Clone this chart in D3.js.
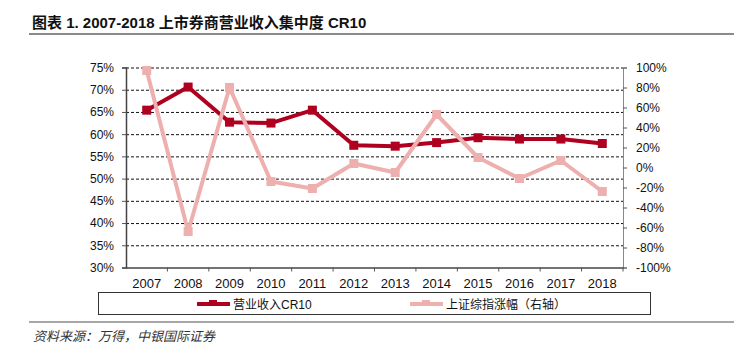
<!DOCTYPE html>
<html>
<head>
<meta charset="utf-8">
<script src="https://cdn.jsdelivr.net/npm/d3@7"></script>
<style>
  body { margin: 0; background: #fff; }
  svg { display: block; font-family: "Liberation Sans", Arial, "Noto Sans CJK SC", sans-serif; }
</style>
</head>
<body>
<svg id="chart" width="734" height="347"></svg>
<script>
// data
var years = ['2007','2008','2009','2010','2011','2012','2013','2014','2015','2016','2017','2018'];
var cr10 = [65.4, 70.6, 62.7, 62.5, 65.4, 57.5, 57.3, 58.1, 59.2, 58.9, 58.9, 57.9];   // 营业收入CR10, left axis %
var szzs = [97, -64, 80, -14, -21, 4, -5, 53, 10, -11, 7, -24];                         // 上证综指涨幅, right axis %
var leftTicks = [30, 35, 40, 45, 50, 55, 60, 65, 70, 75];
var rightTicks = [-100, -80, -60, -40, -20, 0, 20, 40, 60, 80, 100];

var red = '#B00020', pink = '#EDB0AE';
var svg = d3.select('#chart');

var x = d3.scaleBand().domain(years).range([126, 623]);
var yL = d3.scaleLinear().domain([30, 75]).range([267.5, 67.5]);
var yR = d3.scaleLinear().domain([-100, 100]).range([267.5, 67.5]);

// title + rules
svg.append('text').attr('x', 32).attr('y', 28)
  .style('font-size', '15px').style('font-weight', 'bold').attr('fill', '#111')
  .text('图表 1. 2007-2018 上市券商营业收入集中度 CR10');
svg.append('line').attr('x1', 29).attr('x2', 734).attr('y1', 34).attr('y2', 34)
  .attr('stroke', '#8a8a8a').attr('stroke-width', 2);
svg.append('line').attr('x1', 29).attr('x2', 734).attr('y1', 322).attr('y2', 322)
  .attr('stroke', '#8a8a8a').attr('stroke-width', 1.5);
svg.append('text').attr('x', 33).attr('y', 341)
  .style('font-size', '13px').style('font-style', 'italic').attr('fill', '#333')
  .text('资料来源：万得，中银国际证券');

// gridlines
svg.append('g').selectAll('line').data(leftTicks.slice(1)).join('line')
  .attr('x1', 126).attr('x2', 623)
  .attr('y1', d => yL(d) + 0.5).attr('y2', d => yL(d) + 0.5)
  .attr('stroke', '#111').attr('stroke-width', 1).attr('stroke-dasharray', '3,2');

// axes
var gl = svg.append('g').attr('transform', 'translate(126,0)')
  .call(d3.axisLeft(yL).tickValues(leftTicks).tickFormat(d => d + '%').tickSize(4).tickPadding(8));
var gr = svg.append('g').attr('transform', 'translate(623,0)')
  .call(d3.axisRight(yR).tickValues(rightTicks).tickFormat(d => d + '%').tickSize(4).tickPadding(9));
var gb = svg.append('g').attr('transform', 'translate(0,267.5)')
  .call(d3.axisBottom(x).tickSize(0).tickPadding(11));
[gl, gr, gb].forEach(function(g) {
  g.selectAll('text').style('font-size', '12px').attr('fill', '#111')
    .style('font-family', '"Liberation Sans", Arial, sans-serif');
  g.selectAll('line').attr('stroke', '#555');
});
gb.selectAll('text').style('font-size', '13px');
gl.select('.domain').attr('stroke', '#444').attr('stroke-width', 1.5);
gr.select('.domain').attr('stroke', '#888');
gb.select('.domain').attr('stroke', '#444').attr('stroke-width', 1.5);
// category boundary ticks
gb.selectAll('.bt').data(years.slice(1).concat(['end'])).join('line').attr('class', 'bt')
  .attr('x1', (d, i) => x(years[0]) + x.step() * (i + 1)).attr('x2', (d, i) => x(years[0]) + x.step() * (i + 1))
  .attr('y1', 0).attr('y2', 4).attr('stroke', '#555');

// series
function drawSeries(vals, scale, color) {
  var line = d3.line().x((d, i) => x(years[i]) + x.bandwidth() / 2).y(d => scale(d));
  svg.append('path').datum(vals).attr('d', line)
    .attr('fill', 'none').attr('stroke', color).attr('stroke-width', 4).attr('stroke-linejoin', 'round');
  svg.append('g').selectAll('rect').data(vals).join('rect')
    .attr('x', (d, i) => x(years[i]) + x.bandwidth() / 2 - 4.5)
    .attr('y', d => scale(d) - 4.5)
    .attr('width', 9).attr('height', 9).attr('fill', color);
}
drawSeries(cr10, yL, red);
drawSeries(szzs, yR, pink);

// legend
svg.append('rect').attr('x', 98.5).attr('y', 292.5).attr('width', 552).attr('height', 22)
  .attr('fill', 'none').attr('stroke', '#333').attr('stroke-width', 1);
var legend = [
  {name: '营业收入CR10', color: red, x: 197},
  {name: '上证综指涨幅（右轴）', color: pink, x: 410}
];
var lg = svg.append('g').selectAll('g').data(legend).join('g')
  .attr('transform', d => 'translate(' + d.x + ',304)');
lg.append('line').attr('x1', 0).attr('x2', 33).attr('stroke', d => d.color).attr('stroke-width', 4);
lg.append('rect').attr('x', 12).attr('y', -4).attr('width', 8).attr('height', 6).attr('fill', d => d.color);
lg.append('text').attr('x', 36).attr('y', 5)
  .style('font-size', '12px').attr('fill', '#111')
  .style('font-family', '"Liberation Sans", Arial, "Noto Sans CJK SC", sans-serif')
  .text(d => d.name);
</script>
</body>
</html>
